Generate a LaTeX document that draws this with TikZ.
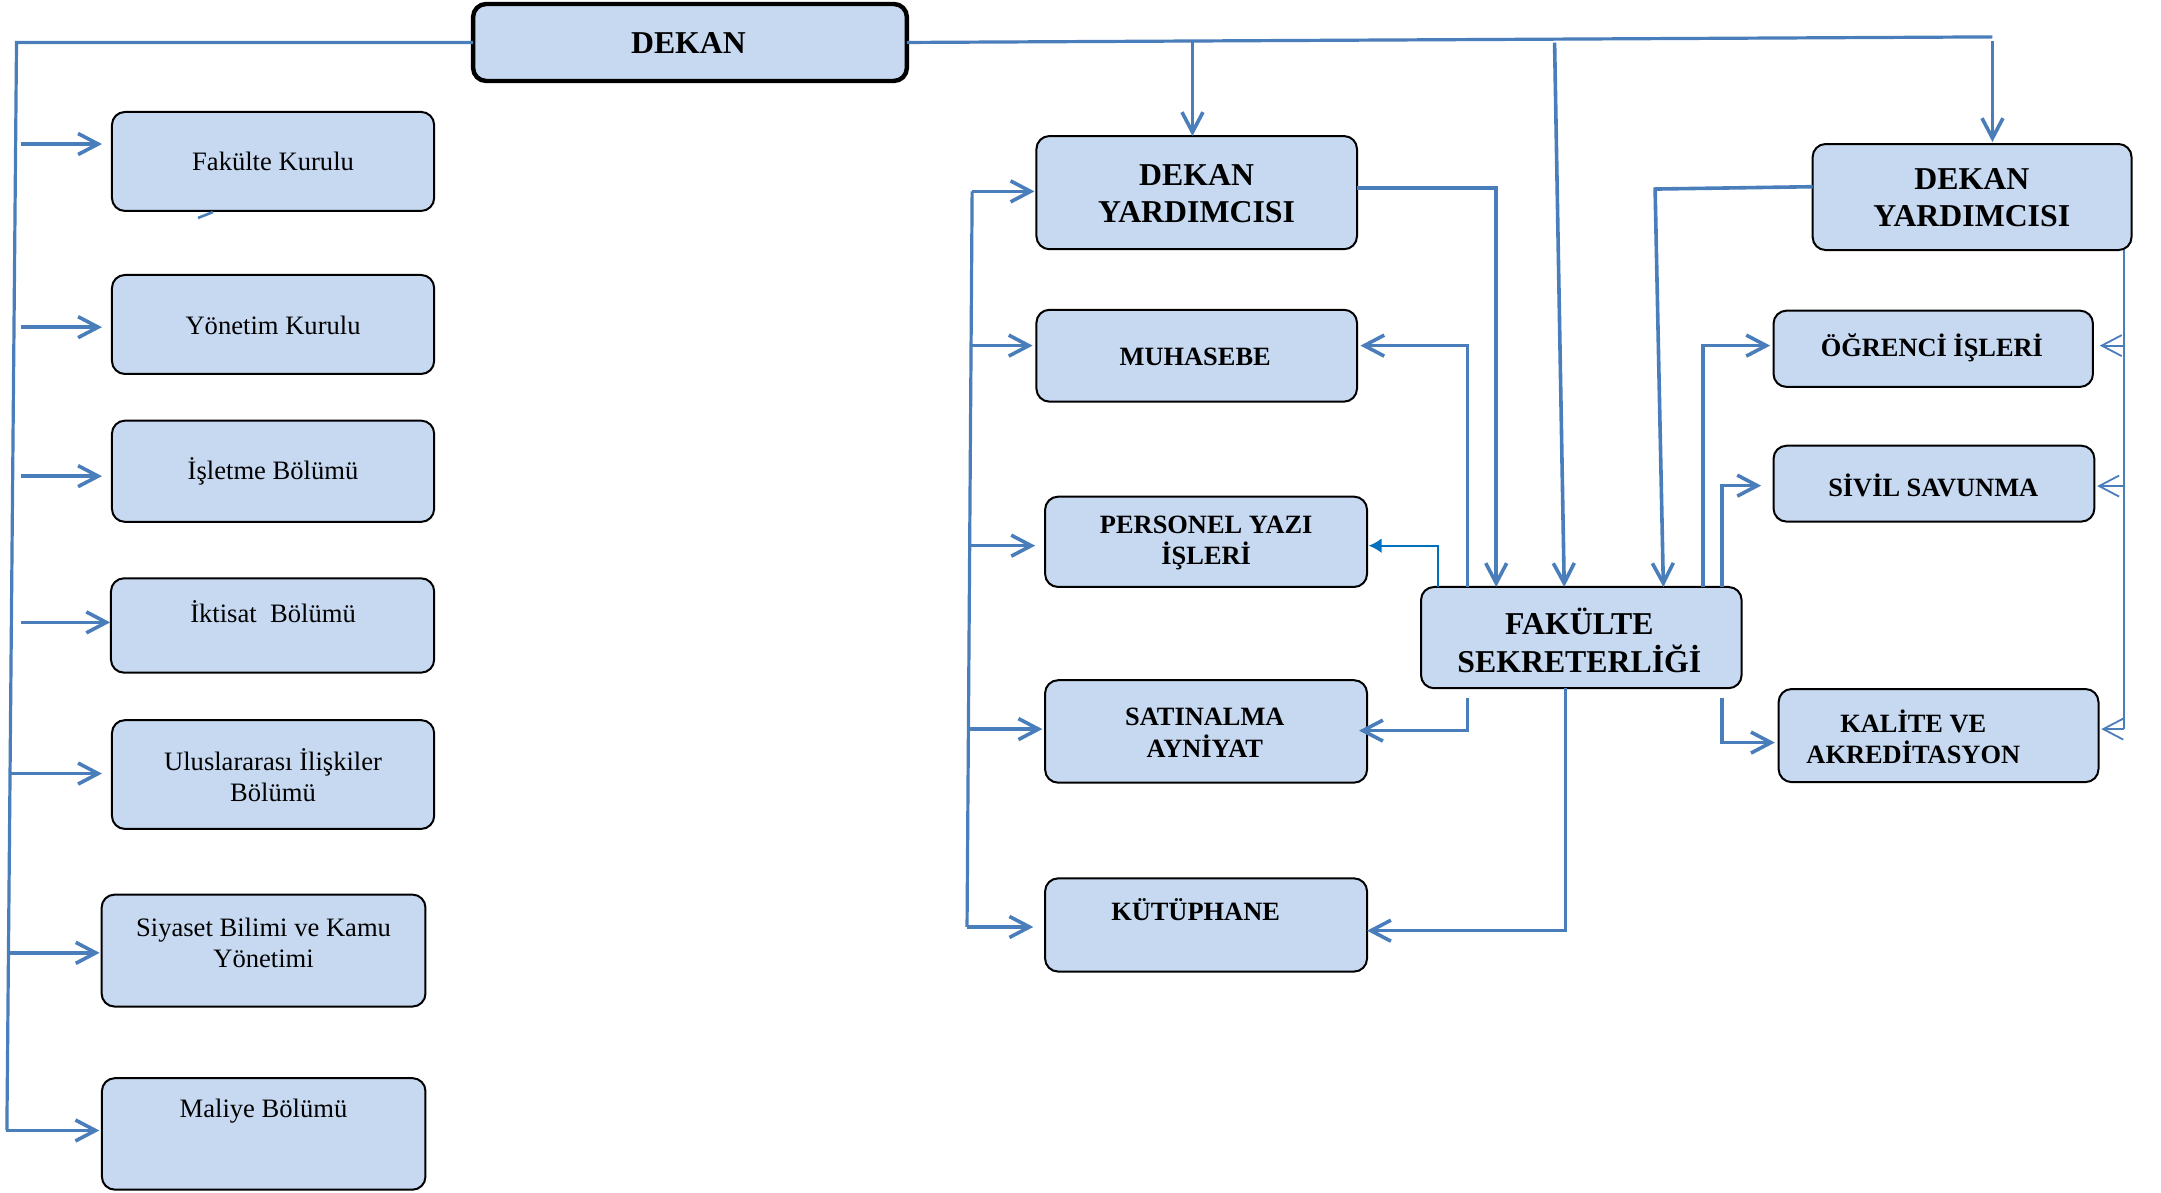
\documentclass[tikz,border=0pt]{standalone}
\usepackage{fontspec}
\setmainfont{Liberation Serif}
\usetikzlibrary{arrows.meta,fit}
\definecolor{lnblue}{HTML}{4A7EBB}
\definecolor{boxfill}{HTML}{C6D9F1}
\definecolor{darkblue}{HTML}{0070C0}
\begin{document}
\begin{tikzpicture}[x=0.6885pt,y=-0.6885pt,
  bx/.style={rectangle, draw=black, line width=1pt, fill=boxfill, rounded corners=6.5pt, inner sep=0pt, outer sep=0pt},
  bxthick/.style={bx, line width=2.2pt},
  rg/.style={font=\fontsize{13.3}{15.2}\selectfont, align=center, inner sep=0pt},
  bs/.style={font=\bfseries\fontsize{13.2}{15.6}\selectfont, align=center, inner sep=0pt},
  bl/.style={font=\bfseries\fontsize{15.9}{18.6}\selectfont, align=center, inner sep=0pt},
  ln/.style={draw=lnblue, line width=1.6pt},
  ar/.style={ln, line width=1.8pt, -{Straight Barb[length=10pt,width=10.5pt]}},
  thinln/.style={draw=lnblue, line width=0.9pt},
  thinar/.style={thinln, -{Straight Barb[length=10pt,width=10.5pt]}},
  parr/.style={draw=darkblue, line width=1.1pt, -{Latex[length=6.5pt,width=7.5pt]}}
]
\useasboundingbox (0,0) rectangle (1569.4,865.7);

% ---------- boxes ----------
\node[bxthick, fit={(343.6,2.9) (658.6,58.8)}] (dekan) {};
\node[bx, fit={(81.3,81.3) (315.3,153.2)}] (fk) {};
\node[bx, fit={(81.3,199.7) (315.3,271.6)}] (yk) {};
\node[bx, fit={(81.3,305.5) (315.3,379)}] (isl) {};
\node[bx, fit={(80.6,420) (315.3,488.5)}] (ikt) {};
\node[bx, fit={(81.3,523) (315.3,602)}] (ulu) {};
\node[bx, fit={(73.8,649.7) (309,731)}] (siy) {};
\node[bx, fit={(74,783) (309,864)}] (mal) {};
\node[bx, fit={(752.7,98.8) (985.5,181)}] (dyl) {};
\node[bx, fit={(1316.4,104.6) (1548,181.6)}] (dyr) {};
\node[bx, fit={(752.7,225) (985.5,291.7)}] (muh) {};
\node[bx, fit={(759,360.7) (992.8,426.3)}] (per) {};
\node[bx, fit={(759,494) (992.8,568.4)}] (sat) {};
\node[bx, fit={(759,637.9) (992.8,705.6)}] (kut) {};
\node[bx, fit={(1032,426.3) (1264.8,499.8)}] (fs) {};
\node[bx, fit={(1288,225.6) (1520,281)}] (ogr) {};
\node[bx, fit={(1288,323.7) (1521,378.8)}] (siv) {};
\node[bx, fit={(1291.7,500.4) (1524,568)}] (kal) {};

% ---------- texts ----------
\node[bl] (dekan-t) at (500,31.4) {DEKAN};
\node[rg] (fk-t) at (198.3,117.4) {Fakülte Kurulu};
\node[rg] (yk-t) at (198.3,236.5) {Yönetim Kurulu};
\node[rg] (isl-t) at (198.3,342) {İşletme Bölümü};
\node[rg] (ikt-t) at (198.3,444) {İktisat\ \ Bölümü};
\node[rg] (ulu-t) at (198.3,563) {Uluslararası İlişkiler\\Bölümü};
\node[rg] (siy-t) at (191.4,684.8) {Siyaset Bilimi ve Kamu\\Yönetimi};
\node[rg] (mal-t) at (191.4,807) {Maliye Bölümü};
\node[bl] (dyl-t) at (869,140.8) {DEKAN\\YARDIMCISI};
\node[bl] (dyr-t) at (1432,143.8) {DEKAN\\YARDIMCISI};
\node[bs] (muh-t) at (868,259) {MUHASEBE};
\node[bs] (per-t) at (876,394.4) {PERSONEL YAZI\\İŞLERİ};
\node[bs] (sat-t) at (875,532.1) {SATINALMA\\AYNİYAT};
\node[bs] (kut-t) at (868.3,660.9) {KÜTÜPHANE};
\node[bl] (fs-t) at (1147,465.1) {FAKÜLTE\\SEKRETERLİĞİ};
\node[bs] (ogr-t) at (1403,252.9) {ÖĞRENCİ İŞLERİ};
\node[bs] (siv-t) at (1404,352.2) {SİVİL SAVUNMA};
\node[bs] (kal-t) at (1389.5,534.9) {KALİTE VE\\AKREDİTASYON};

% ---------- left bus ----------
\coordinate (lbtop) at (12,30.85);
\coordinate (lbbot) at (5,821);
\draw[ln] (dekan.west) -- (lbtop) -- (lbbot);
\coordinate (s1) at (15,104.6);
\coordinate (s2) at (15,237.6);
\coordinate (s3) at (15,345.8);
\coordinate (s4) at (15,452);
\coordinate (s5) at (7.3,561.8);
\coordinate (s6) at (6.1,692);
\draw[ar, shorten >=5pt] (s1) -- (s1 -| fk.west);
\draw[ar, shorten >=5pt] (s2) -- (s2 -| yk.west);
\draw[ar, shorten >=5pt] (s3) -- (s3 -| isl.west);
\draw[ar, shorten >=0.4pt] (s4) -- (s4 -| ikt.west);
\draw[ar, shorten >=5pt] (s5) -- (s5 -| ulu.west);
\draw[ar, shorten >=1pt] (s6) -- (s6 -| siy.west);
\coordinate (s7) at (4,821);
\draw[ar, shorten >=1.3pt] (s7) -- (s7 -| mal.west);
\coordinate (st1) at (143.8,158.3);
\coordinate (st2) at (154.7,154);
\draw[ln, line width=1.3pt] (st1) -- (st2);

% ---------- top bus ----------
\coordinate (tbr) at (1447,26.8);
\draw[ln] (dekan.east) -- (tbr);
\coordinate (t1) at (866,30.3);
\draw[ar] (t1) -- (t1 |- dyl.north);
\coordinate (t2) at (1447,30);
\draw[ar, shorten >=1pt] (t2) -- (t2 |- dyr.north);
\coordinate (t3) at (1129,31);
\draw[ar] (t3) -- (fs.north -| 1136,0);

% ---------- right column left bus ----------
\coordinate (rb1) at (706,139);
\coordinate (rb2) at (702.3,673.2);
\draw[ln] (rb1) -- (rb2);
\draw[ar, shorten >=1pt] (rb1) -- (rb1 -| dyl.west);
\coordinate (rm) at (705.2,251);
\draw[ar, shorten >=1.9pt] (rm) -- (rm -| muh.west);
\coordinate (rp) at (704.2,396.3);
\draw[ar, shorten >=5pt] (rp) -- (rp -| per.west);
\coordinate (rs) at (703.3,529.5);
\draw[ar, shorten >=1.4pt] (rs) -- (rs -| sat.west);
\draw[ar, shorten >=5.9pt] (rb2) -- (rb2 -| kut.west);

% ---------- Fakulte Sekreterligi connectors ----------
\draw[ar] (dyl.east |- 0,136.7) -- (1086.6,136.7) -- (fs.north -| 1086.6,0);
\draw[ar, shorten >=1.7pt] (fs.north -| 1065.7,0) -- (1065.7,251) -- (muh.east |- 0,251);
\draw[parr, shorten >=0.8pt] (fs.north -| 1044.5,0) -- (1044.5,396.3) -- (per.east |- 0,396.3);
\coordinate (fsb1) at (1065.7,507);
\draw[ar, shorten >=-4pt] (fsb1) -- (1065.7,530.6) -- (sat.east |- 0,530.6);
\draw[ar] (fs.south -| 1137,0) -- (1137,675.9) -- (kut.east |- 0,675.9);
\draw[ar] (dyr.west |- 0,135.6) -- (1202,137.3) -- (fs.north -| 1208,0);
\draw[ar, shorten >=1.7pt] (fs.north -| 1236.8,0) -- (1236.8,251) -- (ogr.west |- 0,251);
\draw[ar, shorten >=6.2pt] (fs.north -| 1250.6,0) -- (1250.6,352.7) -- (siv.west |- 0,352.7);
\coordinate (fsb2) at (1250.6,507);
\draw[ar, shorten >=1.9pt] (fsb2) -- (1250.6,539.3) -- (kal.west |- 0,539.3);

% ---------- right thin bus ----------
\draw[thinln] (dyr.south -| 1542.5,0) -- (1542.5,529.5);
\draw[thinar, shorten >=3.4pt] (1542.5,251) -- (ogr.east |- 0,251);
\draw[thinar, shorten >=1.4pt] (1542.5,353) -- (siv.east |- 0,353);
\draw[thinar, shorten >=1.4pt] (1542.5,529.5) -- (kal.east |- 0,529.5);
\end{tikzpicture}
\end{document}
